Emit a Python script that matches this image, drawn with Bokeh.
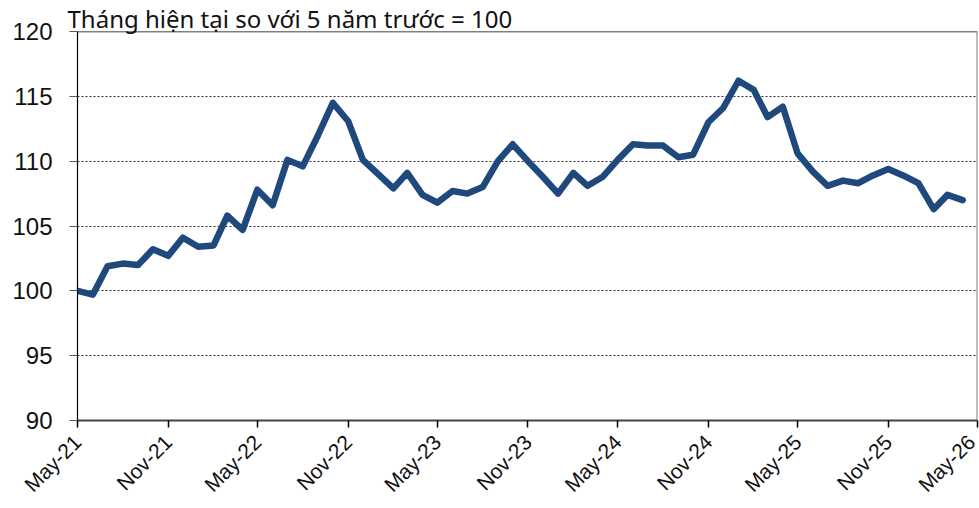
import math
import pandas as pd
from bokeh.plotting import figure
from bokeh.models import Range1d, FixedTicker, Span, ColumnDataSource
from bokeh.embed import file_html
from bokeh.resources import INLINE

# ---- data ----
start_month = "2021-05-01"
values = [100.0, 99.7, 101.9, 102.1, 102.0, 103.2, 102.7, 104.1, 103.4, 103.5,
          105.8, 104.7, 107.8, 106.6, 110.1, 109.6, 112.0, 114.5, 113.1, 110.1,
          109.0, 107.9, 109.1, 107.4, 106.8, 107.7, 107.5, 108.0, 110.0, 111.3,
          110.0, 108.8, 107.5, 109.1, 108.1, 108.8, 110.1, 111.3, 111.2, 111.2,
          110.3, 110.5, 113.0, 114.1, 116.2, 115.5, 113.4, 114.2, 110.6, 109.2,
          108.1, 108.5, 108.3, 108.9, 109.4, 108.9, 108.3, 106.3, 107.4, 107.0]
tick_dates = ["2021-05-01", "2021-11-01", "2022-05-01", "2022-11-01", "2023-05-01",
              "2023-11-01", "2024-05-01", "2024-11-01", "2025-05-01", "2025-11-01",
              "2026-05-01"]
tick_labels = ["May-21", "Nov-21", "May-22", "Nov-22", "May-23", "Nov-23",
               "May-24", "Nov-24", "May-25", "Nov-25", "May-26"]
y_ticks = [90, 95, 100, 105, 110, 115, 120]
title_text = "Tháng hiện tại so với 5 năm trước = 100"

dates = pd.date_range(start_month, periods=len(values), freq="MS")
src = ColumnDataSource(dict(x=dates, y=values))

def ms(d):
    return pd.Timestamp(d).value / 1e6

tick_ms = [ms(d) for d in tick_dates]

p = figure(width=979, height=508, x_axis_type="datetime",
           output_backend="svg", toolbar_location=None,
           min_border_left=77, min_border_right=2, min_border_top=31, min_border_bottom=88)
p.x_range = Range1d(tick_ms[0], tick_ms[-1])
p.y_range = Range1d(90, 120)

p.title.text = title_text
p.title.text_font = "Noto Sans"
p.title.text_font_size = "24px"
p.title.text_font_style = "normal"
p.title.text_color = "#111111"
p.title.align = "left"
p.title.offset = -10
p.title.standoff = -6

p.outline_line_color = None
p.background_fill_color = "white"
p.border_fill_color = "white"

# grid
p.xgrid.grid_line_color = None
p.ygrid.ticker = FixedTicker(ticks=y_ticks[1:-1])
p.ygrid.grid_line_color = "#333333"
p.ygrid.grid_line_dash = "2 2"
p.ygrid.grid_line_width = 1

# y axis
p.yaxis.ticker = FixedTicker(ticks=y_ticks)
p.yaxis.axis_line_color = "black"
p.yaxis.axis_line_width = 1.2
p.yaxis.major_tick_line_color = "#555555"
p.yaxis.major_tick_out = 8
p.yaxis.major_tick_in = 0
p.yaxis.minor_tick_line_color = None
p.yaxis.major_label_text_font = "Liberation Sans"
p.yaxis.major_label_text_font_size = "24px"
p.yaxis.major_label_text_color = "#111111"
p.yaxis.major_label_standoff = 17

# x axis
p.xaxis.ticker = FixedTicker(ticks=tick_ms)
p.xaxis.major_label_overrides = {t: l for t, l in zip(tick_ms, tick_labels)}
p.xaxis.axis_line_color = "#444444"
p.xaxis.axis_line_width = 2
p.xaxis.major_tick_line_color = "black"
p.xaxis.major_tick_line_width = 1.5
p.xaxis.major_tick_out = 7
p.xaxis.major_tick_in = 0
p.xaxis.minor_tick_line_color = None
p.xaxis.major_label_orientation = math.pi / 4
p.xaxis.major_label_text_font = "Liberation Sans"
p.xaxis.major_label_text_font_size = "21px"
p.xaxis.major_label_text_color = "#111111"
p.xaxis.major_label_standoff = 11

# borders
p.add_layout(Span(location=120, dimension="width", line_color="black", line_width=1.5))
p.add_layout(Span(location=tick_ms[-1], dimension="height", line_color="#808080", line_width=2))

p.line("x", "y", source=src, line_color="#1F497D", line_width=6.5, line_join="round", line_cap="round")

open("out.html", "w").write(file_html(p, INLINE))
